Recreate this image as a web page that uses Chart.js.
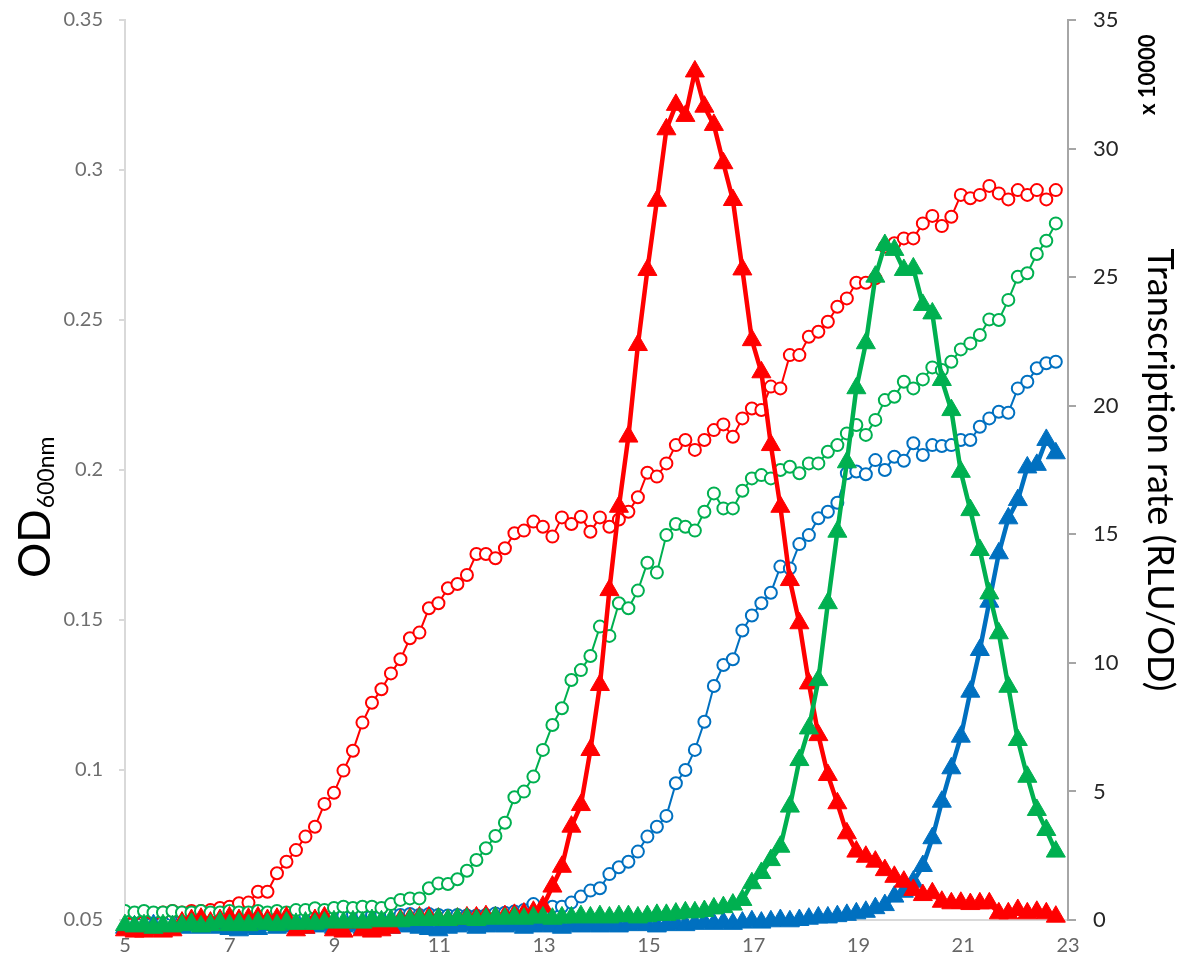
<!DOCTYPE html>
<html>
<head>
<meta charset="utf-8">
<script src="https://cdn.jsdelivr.net/npm/chart.js@4.4.1/dist/chart.umd.min.js"></script>
<style>
    html, body { margin: 0; padding: 0; background: #fff; }
    #chart { display: block; }
</style>
</head>
<body>
<canvas id="chart" width="1183" height="970"></canvas>
<script>
// sampling clock: first read at 5 h, one read every ~10.9 min
const startHour = 5;
const stepHours = 0.1813;

// OD600 (left axis), open circles
const redOD = [
    0.052, 0.052, 0.0525, 0.052, 0.0525, 0.053, 0.0525, 0.053, 0.053, 0.0533,
    0.054, 0.0544, 0.0556, 0.0558, 0.0594, 0.0594, 0.0656, 0.0694, 0.0733, 0.0778,
    0.0811, 0.0887, 0.0924, 0.0998, 0.1064, 0.1158, 0.1224, 0.1269, 0.1322, 0.1369,
    0.1439, 0.1458, 0.1539, 0.1556, 0.1606, 0.162, 0.165, 0.172, 0.172, 0.1706,
    0.1739, 0.1789, 0.1798, 0.1828, 0.1811, 0.1778, 0.1842, 0.182, 0.1844, 0.1794,
    0.1842, 0.1811, 0.1835, 0.1861, 0.1909, 0.1991, 0.1978, 0.2022, 0.2083, 0.21,
    0.2067, 0.21, 0.2133, 0.2152, 0.2111, 0.2172, 0.2205, 0.22, 0.2278, 0.2272,
    0.2383, 0.2383, 0.2444, 0.2461, 0.2494, 0.2544, 0.2572, 0.2624, 0.2624, 0.2639,
    0.2744, 0.2756, 0.2772, 0.2772, 0.2822, 0.2847, 0.2813, 0.2844, 0.2917, 0.2906,
    0.2917, 0.2947, 0.2922, 0.2902, 0.2933, 0.2917, 0.2933, 0.2902, 0.2933,
];
const greenOD = [
    0.053, 0.0525, 0.053, 0.0525, 0.0525, 0.053, 0.0525, 0.0525, 0.053, 0.0525,
    0.0525, 0.053, 0.0525, 0.0525, 0.053, 0.0525, 0.053, 0.0525, 0.0533, 0.0533,
    0.0539, 0.0533, 0.054, 0.0544, 0.054, 0.0544, 0.0544, 0.054, 0.0553, 0.0567,
    0.0572, 0.0572, 0.0606, 0.0622, 0.062, 0.0636, 0.0664, 0.07, 0.0739, 0.078,
    0.0824, 0.0909, 0.0928, 0.0978, 0.1067, 0.115, 0.1206, 0.13, 0.1333, 0.138,
    0.1478, 0.1447, 0.1556, 0.1539, 0.1598, 0.1691, 0.1658, 0.1783, 0.182, 0.1811,
    0.1798, 0.1861, 0.1922, 0.1872, 0.1872, 0.1931, 0.1972, 0.1983, 0.1972, 0.2,
    0.2011, 0.1989, 0.2022, 0.2022, 0.2061, 0.2083, 0.2122, 0.215, 0.2117, 0.2167,
    0.2233, 0.2244, 0.2294, 0.2272, 0.2302, 0.2342, 0.2333, 0.2361, 0.2402, 0.2422,
    0.245, 0.2502, 0.25, 0.2567, 0.2644, 0.2656, 0.272, 0.2764, 0.2822,
];
const blueOD = [
    0.051, 0.051, 0.0515, 0.051, 0.051, 0.0515, 0.051, 0.051, 0.0515, 0.051,
    0.0515, 0.051, 0.0515, 0.0515, 0.051, 0.0515, 0.0515, 0.052, 0.0515, 0.0515,
    0.052, 0.0515, 0.052, 0.0515, 0.052, 0.052, 0.0515, 0.052, 0.052, 0.0517,
    0.052, 0.0517, 0.052, 0.0517, 0.0515, 0.0517, 0.0515, 0.0515, 0.0517, 0.0522,
    0.0524, 0.0528, 0.0533, 0.0553, 0.0528, 0.0544, 0.0544, 0.0558, 0.0578, 0.0598,
    0.0606, 0.0653, 0.0676, 0.0694, 0.0728, 0.0778, 0.0811, 0.0847, 0.0956, 0.1,
    0.1067, 0.1161, 0.128, 0.135, 0.1369, 0.1465, 0.1515, 0.1556, 0.1591, 0.1678,
    0.1672, 0.1753, 0.1783, 0.1839, 0.1861, 0.1891, 0.1989, 0.1995, 0.1986, 0.2033,
    0.2, 0.2044, 0.2031, 0.2089, 0.205, 0.2083, 0.208, 0.2083, 0.21, 0.21,
    0.2144, 0.2172, 0.2194, 0.2191, 0.2272, 0.2294, 0.2339, 0.2356, 0.2361,
];

// transcription rate, RLU/OD x 10000 (right axis), filled triangles
const redRate = [
    -0.4, -0.45, -0.45, -0.4, -0.45, -0.4, -0.1, 0, 0.05, -0.1,
    0, 0.1, 0, 0.05, 0.1, 0, 0.05, 0.1, -0.4, -0.3,
    0, 0.1, -0.4, -0.45, -0.1, -0.4, -0.45, -0.4, -0.3, 0,
    0.05, 0.1, 0.1, 0.05, 0, 0.05, 0.1, 0.1, 0.15, 0.1,
    0.15, 0.2, 0.25, 0.32, 0.52, 1.3, 2.07, 3.63, 4.47, 6.61,
    9.14, 12.83, 16.07, 18.8, 22.36, 25.28, 27.97, 30.75, 31.7, 31.27,
    33.0, 31.63, 30.92, 29.43, 28.0, 25.3, 22.55, 21.3, 18.47, 16.07,
    13.22, 11.54, 9.2, 7.19, 5.64, 4.54, 3.37, 2.66, 2.46, 2.27,
    1.94, 1.68, 1.49, 1.17, 0.97, 1.04, 0.71, 0.65, 0.67, 0.62,
    0.65, 0.65, 0.26, 0.26, 0.39, 0.26, 0.32, 0.26, 0.13,
];
const greenRate = [
    -0.2, -0.25, -0.2, -0.3, -0.2, -0.25, -0.2, -0.15, -0.25, -0.2,
    -0.1, -0.2, -0.15, -0.2, -0.1, -0.15, -0.2, -0.1, -0.15, -0.1,
    -0.15, -0.1, -0.05, -0.1, -0.05, -0.1, 0, -0.05, 0, -0.05,
    0, 0.05, 0, 0.05, 0, 0.05, 0.05, 0, 0.05, 0.1,
    0.05, 0.1, 0.05, 0.1, 0.1, 0.05, 0.1, 0.1, 0.15, 0.1,
    0.15, 0.1, 0.15, 0.15, 0.1, 0.15, 0.2, 0.2, 0.25, 0.3,
    0.3, 0.35, 0.45, 0.5, 0.6, 0.78, 1.43, 1.83, 2.33, 2.85,
    4.41, 6.22, 7.45, 9.33, 12.32, 15.1, 17.8, 20.68, 22.43, 25.02,
    26.25, 26.06, 25.28, 25.34, 23.92, 23.59, 21.0, 19.83, 17.43, 15.94,
    14.39, 12.7, 11.15, 9.07, 7.0, 5.57, 4.28, 3.5, 2.66,
];
const blueRate = [
    -0.3, -0.25, -0.3, -0.2, -0.3, -0.25, -0.3, -0.2, -0.3, -0.25,
    -0.3, -0.35, -0.4, -0.3, -0.35, -0.2, -0.3, -0.25, -0.2, -0.3,
    -0.25, -0.2, -0.3, -0.25, -0.2, -0.3, -0.2, -0.25, -0.3, -0.2,
    -0.25, -0.3, -0.35, -0.4, -0.3, -0.25, -0.2, -0.3, -0.25, -0.2,
    -0.25, -0.2, -0.3, -0.25, -0.2, -0.25, -0.3, -0.2, -0.25, -0.2,
    -0.25, -0.2, -0.25, -0.2, -0.15, -0.2, -0.25, -0.2, -0.15, -0.2,
    -0.15, -0.1, -0.15, -0.1, -0.15, -0.1, -0.05, -0.1, -0.05, 0,
    -0.05, 0, 0.05, 0.1, 0.1, 0.15, 0.2, 0.26, 0.32, 0.46,
    0.58, 0.91, 1.1, 1.49, 2.1, 3.18, 4.6, 5.9, 7.13, 8.88,
    10.5, 12.38, 14.26, 15.62, 16.33, 17.6, 17.7, 18.67, 18.15,
];

// axis ranges
const xRange = { min: 5, max: 23, step: 2 };
const odRange = { min: 0.05, max: 0.35, step: 0.05 };
const rateRange = { min: 0, max: 35, step: 5 };

const RED = '#FF0000';
const GREEN = '#00B050';
const BLUE = '#0070C0';

const times = redOD.map((_, i) => startHour + i * stepHours);
const toPoints = (values) => values.map((y, i) => ({ x: times[i], y }));

const circleSeries = (values, color) => ({
    data: toPoints(values),
    yAxisID: 'yOD',
    borderColor: color,
    borderWidth: 2,
    pointStyle: 'circle',
    pointRadius: 6,
    pointBorderWidth: 2,
    pointBorderColor: color,
    pointBackgroundColor: '#fff',
});

const triangleSeries = (values, color) => ({
    data: toPoints(values),
    yAxisID: 'yRate',
    borderColor: color,
    borderWidth: 4.5,
    pointStyle: 'triangle',
    pointRadius: 11,
    pointBorderWidth: 1,
    pointBorderColor: color,
    pointBackgroundColor: color,
    clip: false,
});

// fixed box sizes so the plot area sits where the original one does
const fixWidth = (width) => (scale) => {
    scale.width = width;
    scale.paddingTop = 0;
    scale.paddingBottom = 0;
};

// left title with subscript and the "x 10000" multiplier note
const extraLabels = {
    id: 'extraLabels',
    afterDraw(chart) {
        const { ctx } = chart;
        ctx.save();
        ctx.fillStyle = '#000';
        ctx.textBaseline = 'alphabetic';
        ctx.translate(50, 578);
        ctx.rotate(-Math.PI / 2);
        ctx.font = '44px Lato';
        ctx.fillText('OD', 0, 0);
        const odWidth = ctx.measureText('OD').width;
        ctx.font = '23px Lato';
        ctx.fillText('600nm', odWidth + 1, 4);
        ctx.restore();

        ctx.save();
        ctx.fillStyle = '#000';
        ctx.textBaseline = 'alphabetic';
        ctx.translate(1155, 115);
        ctx.rotate(-Math.PI / 2);
        ctx.font = 'bold 22px Lato';
        ctx.fillText('x 10000', 0, 0);
        ctx.restore();
    },
};

Chart.defaults.font.family = 'Lato';

new Chart(document.getElementById('chart'), {
    type: 'line',
    data: {
        datasets: [
            triangleSeries(greenRate, GREEN),
            triangleSeries(redRate, RED),
            triangleSeries(blueRate, BLUE),
            circleSeries(greenOD, GREEN),
            circleSeries(redOD, RED),
            circleSeries(blueOD, BLUE),
        ],
    },
    options: {
        responsive: false,
        devicePixelRatio: 1,
        animation: false,
        layout: { padding: { top: 20, right: 0, left: 0, bottom: 0 } },
        elements: { line: { tension: 0 } },
        plugins: {
            legend: { display: false },
            tooltip: { enabled: false },
        },
        scales: {
            x: {
                type: 'linear',
                min: xRange.min,
                max: xRange.max,
                afterFit: (scale) => { scale.height = 50; },
                ticks: {
                    stepSize: xRange.step,
                    color: '#666',
                    font: { size: 20 },
                    padding: 14,
                    maxRotation: 0,
                },
                grid: { display: false, drawTicks: false },
                border: { display: true, color: '#D9D9D9', width: 2 },
            },
            yOD: {
                type: 'linear',
                position: 'left',
                min: odRange.min,
                max: odRange.max,
                afterFit: fixWidth(125),
                ticks: {
                    stepSize: odRange.step,
                    color: '#6E6E6E',
                    font: { size: 20 },
                    padding: 16,
                    callback: (value) => String(Math.round(value * 100) / 100),
                },
                grid: { drawOnChartArea: false, drawTicks: true, tickLength: 6, color: '#D9D9D9', lineWidth: 2 },
                border: { display: true, color: '#D9D9D9', width: 2 },
            },
            yRate: {
                type: 'linear',
                position: 'right',
                min: rateRange.min,
                max: rateRange.max,
                afterFit: fixWidth(115),
                ticks: {
                    stepSize: rateRange.step,
                    color: '#262626',
                    font: { size: 22 },
                    padding: 17,
                },
                grid: { drawOnChartArea: false, drawTicks: true, tickLength: 8, color: '#A6A6A6', lineWidth: 2 },
                border: { display: true, color: '#A6A6A6', width: 2 },
                title: {
                    display: true,
                    text: 'Transcription rate (RLU/OD)',
                    color: '#000',
                    font: { size: 36 },
                    padding: { top: 2, bottom: 0 },
                },
            },
        },
    },
    plugins: [extraLabels],
});
</script>
</body>
</html>
